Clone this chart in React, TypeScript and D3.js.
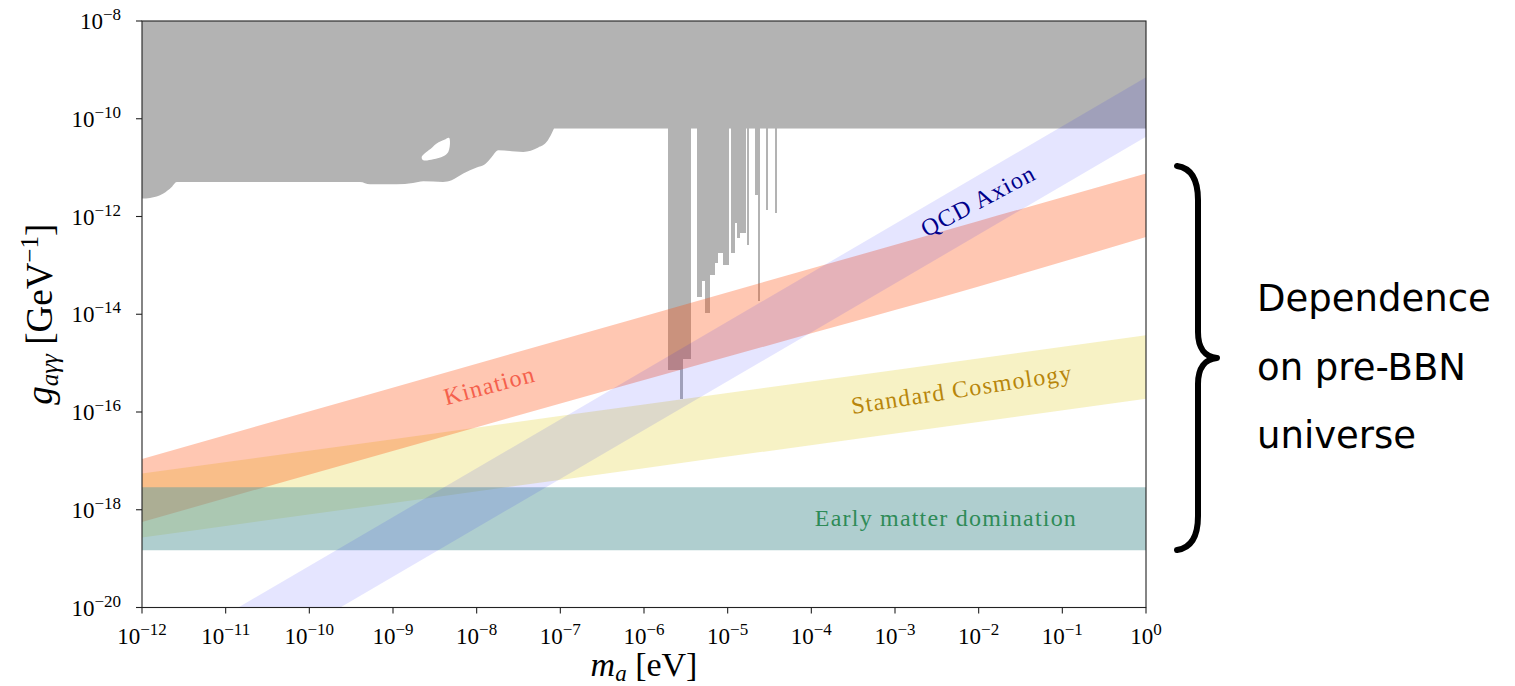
import React from 'react';
import * as d3 from 'd3';

const W = 1515;
const H = 686;
const PLOT = { left: 142, right: 1146, top: 21, bottom: 607.5 };
const SERIF = "'Liberation Serif', 'Times New Roman', serif";
const SANS = "'DejaVu Sans', sans-serif";

// ---- axes (log10 exponents) ----
const xTickExps = [-12, -11, -10, -9, -8, -7, -6, -5, -4, -3, -2, -1, 0];
const yTickExps = [-20, -18, -16, -14, -12, -10, -8];

// ---- grey excluded region ----
const excludedTopLogG = -8;
const helioscopeLogG = -10.2; // flat limit across the whole range
// lower boundary of the low-mass astrophysical bound [log10 m, log10 g]
const astroLogM = [-12, -11.904, -11.745, -11.645, -11.585, -9.395, -9.275, -8.956, -8.761, -8.638, -8.403, -8.299, -8.16, -8.0, -7.901, -7.82, -7.742, -7.443, -7.264, -7.163, -7.104, -7.076];
const astroLogG = [-11.633, -11.621, -11.531, -11.396, -11.293, -11.293, -11.34, -11.34, -11.314, -11.279, -11.293, -11.258, -11.121, -10.998, -10.93, -10.781, -10.643, -10.678, -10.588, -10.473, -10.301, -10.199];
// allowed island inside the astrophysical bound
const holeLogM = [-8.657, -8.538, -8.478, -8.379, -8.331, -8.319, -8.339, -8.399, -8.519, -8.638];
const holeLogG = [-10.781, -10.596, -10.506, -10.424, -10.391, -10.473, -10.678, -10.766, -10.828, -10.848];
// haloscope bars: mass range and reach
const haloLoLogM = [-5.71, -5.57, -5.534, -5.358, -5.31, -5.27, -5.22, -5.16, -5.116, -5.056, -4.952, -4.913, -4.889, -4.853, -4.765, -4.673, -4.636, -4.536, -4.435];
const haloHiLogM = [-5.57, -5.534, -5.442, -5.31, -5.27, -5.22, -5.16, -5.116, -5.056, -4.993, -4.913, -4.889, -4.853, -4.781, -4.752, -4.613, -4.618, -4.518, -4.41];
const haloLogG = [-15.15, -15.725, -14.906, -13.65, -13.31, -13.98, -13.205, -12.96, -12.75, -13.0, -12.75, -12.14, -12.45, -12.34, -12.59, -11.57, -13.72, -11.87, -11.93];

// ---- bands ----
const stdLogM = [-12, -6, 0];
const stdUpper = [-17.26, -15.845, -14.43];
const stdLower = [-18.57, -17.15, -15.73];

const kinLogM = [-12, -8, -4, -2, 0];
const kinUpper = [-16.96, -15.013, -13.066, -12.093, -11.12];
const kinLower = [-18.25, -16.31, -14.39, -13.43, -12.42];

const emdLogM = [-12, 0];
const emdUpper = [-17.54, -17.54];
const emdLower = [-18.83, -18.83];

const qcdLogM = [-12, 0];
const qcdUpper = [-21.15, -9.15];
const qcdLower = [-22.37, -10.37];

// label anchors [log10 m, log10 g, rotation]
const labelNames = ['Kination', 'Standard Cosmology', 'QCD Axion', 'Early matter domination'];
const labelLogM = [-7.823, -2.188, -1.961, -2.391];
const labelLogG = [-15.613, -15.695, -11.822, -18.328];
const labelRot = [-15, -8.7, -28, 0];
const labelColors = ['#f5604c', '#b8860b', '#00008b', '#2e8b57'];

const braceLines = ['Dependence', 'on pre-BBN', 'universe'];

const p10 = (v: number) => Math.pow(10, v);

export default function App() {
  const x = d3.scaleLog().domain([1e-12, 1]).range([PLOT.left, PLOT.right]);
  const y = d3.scaleLog().domain([1e-20, 1e-8]).range([PLOT.bottom, PLOT.top]);

  const band = (ms: number[], lo: number[], hi: number[]) =>
    d3
      .area<number>()
      .x((_, i) => x(p10(ms[i])))
      .y0((_, i) => y(p10(lo[i])))
      .y1((_, i) => y(p10(hi[i])))
      .curve(d3.curveMonotoneX)(ms) as string;

  const astroArea = d3
    .area<number>()
    .x((_, i) => x(p10(astroLogM[i])))
    .y0(() => y(p10(helioscopeLogG)) - 1)
    .y1((_, i) => y(p10(astroLogG[i])))
    .curve(d3.curveMonotoneX)(astroLogM) as string;

  const holePath = d3
    .line<number>()
    .x((_, i) => x(p10(holeLogM[i])))
    .y((_, i) => y(p10(holeLogG[i])))
    .curve(d3.curveCatmullRomClosed)(holeLogM) as string;

  const sup = (e: number) => (e < 0 ? `\u2212${-e}` : `${e}`);

  // brace geometry (in pixels relative to the axis)
  const bx = 1177;
  const bTop = 166;
  const bBot = 550;
  const bMid = (bTop + bBot) / 2;
  const bracePath = `M ${bx} ${bTop}
    C ${bx + 14} ${bTop + 2}, ${bx + 21} ${bTop + 14}, ${bx + 21} ${bTop + 34}
    L ${bx + 21} ${bMid - 26}
    C ${bx + 21} ${bMid - 10}, ${bx + 28} ${bMid - 1}, ${bx + 40} ${bMid}
    C ${bx + 28} ${bMid + 1}, ${bx + 21} ${bMid + 10}, ${bx + 21} ${bMid + 26}
    L ${bx + 21} ${bBot - 34}
    C ${bx + 21} ${bBot - 14}, ${bx + 14} ${bBot - 2}, ${bx} ${bBot}`;

  return (
    <div style={{ position: 'absolute', left: 0, top: 0 }}>
      <svg width={W} height={H} style={{ display: 'block', background: '#fff' }}>
        <defs>
          <clipPath id="plotClip">
            <rect x={PLOT.left} y={PLOT.top} width={PLOT.right - PLOT.left} height={PLOT.bottom - PLOT.top} />
          </clipPath>
        </defs>
        <g clipPath="url(#plotClip)">
          {/* excluded region */}
          <rect
            x={x(1e-12)}
            y={y(p10(excludedTopLogG))}
            width={x(1) - x(1e-12)}
            height={y(p10(helioscopeLogG)) - y(p10(excludedTopLogG))}
            fill="#b3b3b3"
          />
          <path d={astroArea} fill="#b3b3b3" />
          <path d={holePath} fill="#ffffff" />
          {haloLoLogM.map((lo, i) => (
            <rect
              key={i}
              x={x(p10(lo)) - 0.3}
              y={y(p10(helioscopeLogG)) - 1}
              width={x(p10(haloHiLogM[i])) - x(p10(lo)) + 0.6}
              height={y(p10(haloLogG[i])) - y(p10(helioscopeLogG)) + 1}
              fill="#b3b3b3"
              shapeRendering="crispEdges"
            />
          ))}
          {/* bands */}
          <path d={band(stdLogM, stdLower, stdUpper)} fill="rgb(240,230,140)" fillOpacity={0.5} />
          <path d={band(kinLogM, kinLower, kinUpper)} fill="rgb(255,69,0)" fillOpacity={0.3} />
          <path d={band(emdLogM, emdLower, emdUpper)} fill="rgb(95,158,160)" fillOpacity={0.5} />
          <path d={band(qcdLogM, qcdLower, qcdUpper)} fill="rgb(0,0,255)" fillOpacity={0.1} />
        </g>

        {/* band labels */}
        {labelNames.map((name, i) => (
          <text
            key={name}
            transform={`translate(${x(p10(labelLogM[i]))},${y(p10(labelLogG[i]))}) rotate(${labelRot[i]})`}
            textAnchor="middle"
            fontFamily={SERIF}
            fontSize={24}
            letterSpacing={1.2}
            fill={labelColors[i]}
          >
            {name}
          </text>
        ))}

        {/* frame */}
        <rect
          x={PLOT.left}
          y={PLOT.top}
          width={PLOT.right - PLOT.left}
          height={PLOT.bottom - PLOT.top}
          fill="none"
          stroke="#222"
          strokeWidth={1.1}
        />

        {/* x ticks */}
        {xTickExps.map((e) => (
          <g key={`x${e}`}>
            <line x1={x(p10(e))} x2={x(p10(e))} y1={PLOT.bottom} y2={PLOT.bottom + 6} stroke="#222" strokeWidth={1.1} />
            <text x={x(p10(e))} y={644} textAnchor="middle" fontFamily={SERIF} fontSize={23} fill="#000">
              10
              <tspan dy={-9} fontSize={17}>
                {sup(e)}
              </tspan>
            </text>
          </g>
        ))}

        {/* y ticks */}
        {yTickExps.map((e) => (
          <g key={`y${e}`}>
            <line x1={PLOT.left - 6} x2={PLOT.left} y1={y(p10(e))} y2={y(p10(e))} stroke="#222" strokeWidth={1.1} />
            <text x={121} y={y(p10(e)) + 8} textAnchor="end" fontFamily={SERIF} fontSize={23} fill="#000">
              10
              <tspan dy={-9} fontSize={17}>
                {sup(e)}
              </tspan>
            </text>
          </g>
        ))}

        {/* axis labels */}
        <text x={(PLOT.left + PLOT.right) / 2} y={676} textAnchor="middle" fontFamily={SERIF} fontSize={34} fill="#000">
          <tspan fontStyle="italic">m</tspan>
          <tspan fontStyle="italic" fontSize={23} dy={5}>
            a
          </tspan>
          <tspan dy={-5}> [eV]</tspan>
        </text>
        <text
          transform={`translate(52,${(PLOT.top + PLOT.bottom) / 2}) rotate(-90)`}
          textAnchor="middle"
          fontFamily={SERIF}
          fontSize={37}
          fill="#000"
        >
          <tspan fontStyle="italic">g</tspan>
          <tspan fontStyle="italic" fontSize={25} dy={6}>
            aγγ
          </tspan>
          <tspan dy={-6}> [GeV</tspan>
          <tspan fontSize={25} dy={-14}>
            {'\u2212'}1
          </tspan>
          <tspan dy={14}>]</tspan>
        </text>

        {/* brace and annotation */}
        <path d={bracePath} fill="none" stroke="#000" strokeWidth={6} strokeLinecap="round" strokeLinejoin="round" />
        {braceLines.map((t, i) => (
          <text key={t} x={1257} y={311 + i * 68.7} fontFamily={SANS} fontSize={37} fill="#000">
            {t}
          </text>
        ))}
      </svg>
    </div>
  );
}
